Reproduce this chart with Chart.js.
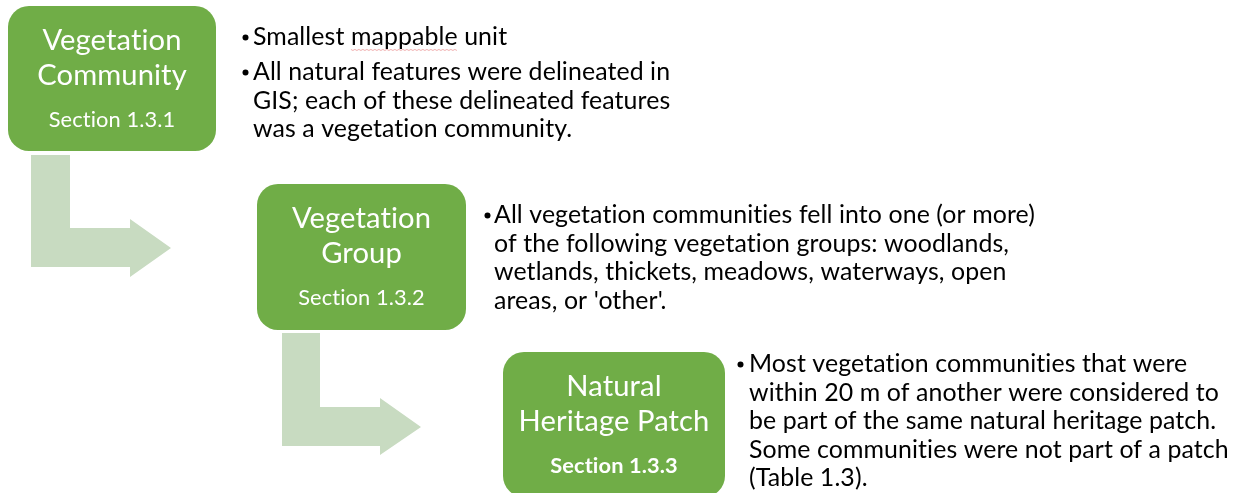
<!DOCTYPE html>
<html>
<head>
<meta charset="utf-8">
<script src="https://cdn.jsdelivr.net/npm/chart.js@4"></script>
<style>
html,body{margin:0;padding:0;background:#fff;}
#wrap{width:1233px;height:493px;position:relative;}
</style>
</head>
<body>
<div id="wrap"><canvas id="c"></canvas></div>
<script>
// ---- content ----
const stepTitles = [["Vegetation","Community"],["Vegetation","Group"],["Natural","Heritage Patch"]];
const stepSections = ["Section 1.3.1","Section 1.3.2","Section 1.3.3"];
const sectionBold = [false,false,true];
const stepNotes = [
  [["Smallest mappable unit"],
   ["All natural features were delineated in","GIS; each of these delineated features","was a vegetation community."]],
  [["All vegetation communities fell into one (or more)","of the following vegetation groups: woodlands,","wetlands, thickets, meadows, waterways, open","areas, or 'other'."]],
  [["Most vegetation communities that were","within 20 m of another were considered to","be part of the same natural heritage patch.","Some communities were not part of a patch","(Table 1.3)."]]
];

// ---- layout (chart units, scales span the canvas) ----
const layout = {
  boxes: [[8,6,216,151],[257,184,466,330],[503,352,725,497]],
  arrows: [
    [[31,155],[70,155],[70,228],[130,228],[130,219],[171,248],[130,277],[130,267],[31,267]],
    [[282,333],[320,333],[320,407],[380,407],[380,398],[421,427],[380,455],[380,446],[282,446]]
  ],
  notes: [{bx:245.5,tx:253,y:37},{bx:487.5,tx:494,y:215},{bx:740.5,tx:749,y:364}],
  lineGap:28.6, paraGap:6.5,
  titleOff:[34.5,70], sectionOff:114
};
const FONT = "Lato, 'Open Sans', sans-serif";
const GREEN = "#70AD47", ARROW = "#C8DBC1";

function fit(ctx, text, weight, target){
  ctx.font = weight+" 40px "+FONT;
  return 40*target/ctx.measureText(text).width;
}

const diagram = {
  id:'diagram',
  afterDraw(chart){
    const ctx = chart.ctx, xs = chart.scales.x, ys = chart.scales.y;
    const X = v=>xs.getPixelForValue(v), Y = v=>ys.getPixelForValue(v);
    ctx.save();
    ctx.letterSpacing = "0.1px"; // disables the "ti" ligature
    const noteSize = fit(ctx,"All natural features were delineated in","normal",416);
    const titleSize = fit(ctx,"Vegetation","normal",139);
    const secSize = fit(ctx,"Section 1.3.1","normal",126);
    const secBoldSize = fit(ctx,"Section 1.3.3","bold",127);
    // arrows
    ctx.fillStyle = ARROW;
    layout.arrows.forEach(pts=>{
      ctx.beginPath();
      pts.forEach((p,i)=> i?ctx.lineTo(X(p[0]),Y(p[1])):ctx.moveTo(X(p[0]),Y(p[1])));
      ctx.closePath(); ctx.fill();
    });
    // boxes
    layout.boxes.forEach((b,i)=>{
      const x0=X(b[0]),y0=Y(b[1]),x1=X(b[2]),y1=Y(b[3]);
      ctx.beginPath(); ctx.roundRect(x0,y0,x1-x0,y1-y0,21);
      ctx.fillStyle=GREEN; ctx.fill();
      ctx.fillStyle="#fff"; ctx.textAlign="center"; ctx.textBaseline="middle";
      const cx=(x0+x1)/2;
      ctx.font="normal "+titleSize+"px "+FONT;
      stepTitles[i].forEach((t,k)=>ctx.fillText(t,cx,Y(b[1]+layout.titleOff[k])));
      ctx.font=(sectionBold[i]?"bold "+secBoldSize:"normal "+secSize)+"px "+FONT;
      ctx.fillText(stepSections[i],cx,Y(b[1]+layout.sectionOff));
    });
    // notes
    ctx.fillStyle="#000"; ctx.textAlign="left"; ctx.textBaseline="middle";
    ctx.font="normal "+noteSize+"px "+FONT;
    layout.notes.forEach((n,i)=>{
      let y=n.y;
      stepNotes[i].forEach((para,pi)=>{
        if(pi>0) y+=layout.paraGap;
        para.forEach((line,li)=>{
          if(li===0){
            ctx.beginPath(); ctx.arc(X(n.bx),Y(y)+0.5,3,0,Math.PI*2); ctx.fill();
          }
          ctx.fillText(line,X(n.tx),Y(y));
          if(i===0&&pi===0&&li===0){
            // spell-check squiggle under "mappable"
            const pre=ctx.measureText("Smallest ").width, w=ctx.measureText("mappable").width;
            const sx=X(n.tx)+pre, sy=Y(y)+noteSize*0.5;
            ctx.save(); ctx.strokeStyle="rgba(230,120,120,0.6)"; ctx.lineWidth=1;
            ctx.beginPath();
            for(let k=0;k<=w;k+=2){ const yy=sy+((k/2)%2?1:0); k?ctx.lineTo(sx+k,yy):ctx.moveTo(sx+k,yy); }
            ctx.stroke(); ctx.restore();
          }
          y+=layout.lineGap;
        });
      });
    });
    ctx.restore();
  }
};

new Chart(document.getElementById('c'),{
  type:'scatter',
  data:{datasets:[]},
  options:{
    responsive:true, maintainAspectRatio:false, animation:false,
    layout:{padding:0},
    plugins:{legend:{display:false},tooltip:{enabled:false}},
    scales:{
      x:{type:'linear',min:0,max:1233,display:false},
      y:{type:'linear',min:0,max:493,reverse:true,display:false}
    }
  },
  plugins:[diagram]
});
</script>
</body>
</html>
